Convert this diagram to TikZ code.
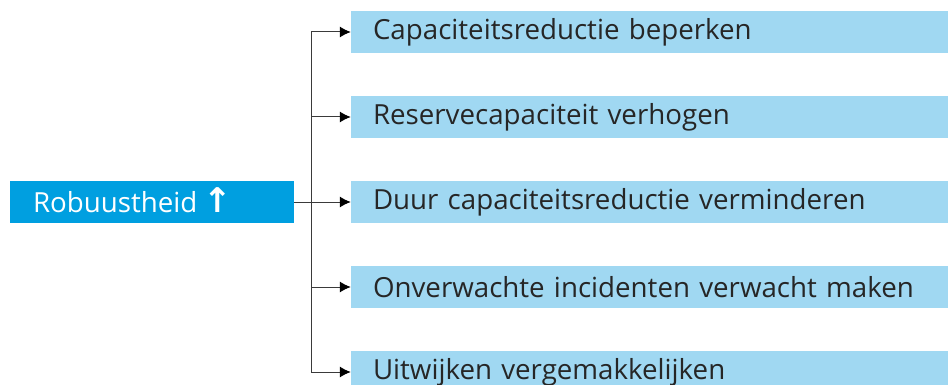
\documentclass[tikz,border=0pt]{standalone}
\usepackage{fontspec}
\setmainfont{Open Sans}
\newfontfamily\pijlfont{DejaVu Sans}
\usetikzlibrary{arrows.meta}
\definecolor{donkerblauw}{HTML}{009FE0}
\definecolor{lichtblauw}{HTML}{A0D8F2}
\definecolor{lijn}{HTML}{3A3A3A}
\tikzstyle{doel} = [rectangle, minimum width=284pt, minimum height=42pt, text width=238pt, align=left, fill=donkerblauw, text=white, font=\fontsize{27.7}{30}\selectfont]
\tikzstyle{maatregel} = [rectangle, minimum width=597pt, minimum height=42pt, text width=553pt, align=left, fill=lichtblauw, text=black!85, font=\fontsize{27.7}{30}\selectfont]
\tikzstyle{arrow} = [line width=1pt, lijn, ->, >={Latex[length=11pt,width=11pt,black]}]

\begin{document}
\begin{tikzpicture}[x=1pt, y=1pt, node distance=85pt]
            \clip (0,0) rectangle (948,-385);
            \node (robuust) [doel] at (152,-202) {Robuustheid\hspace{6pt}\smash{\pijlfont\bfseries\fontsize{34}{34}\selectfont ↑}};

            \node (capred)  [maatregel] at (649.5,-32) {Capaciteitsreductie beperken};
            \node (reserve) [maatregel, below of=capred]  {Reservecapaciteit verhogen};
            \node (duur)    [maatregel, below of=reserve] {Duur capaciteitsreductie verminderen};
            \node (onverw)  [maatregel, below of=duur]    {Onverwachte incidenten verwacht maken};
            \node (uitwijk) [maatregel, below of=onverw]  {Uitwijken vergemakkelijken};

            \coordinate (split) at (311,-202);
            \draw [arrow] (robuust.east) -- (duur.west);
            \draw [arrow] (split) |- (capred.west);
            \draw [arrow] (split) |- (reserve.west);
            \draw [arrow] (split) |- (onverw.west);
            \draw [arrow] (split) |- (uitwijk.west);
        \end{tikzpicture}
\end{document}
